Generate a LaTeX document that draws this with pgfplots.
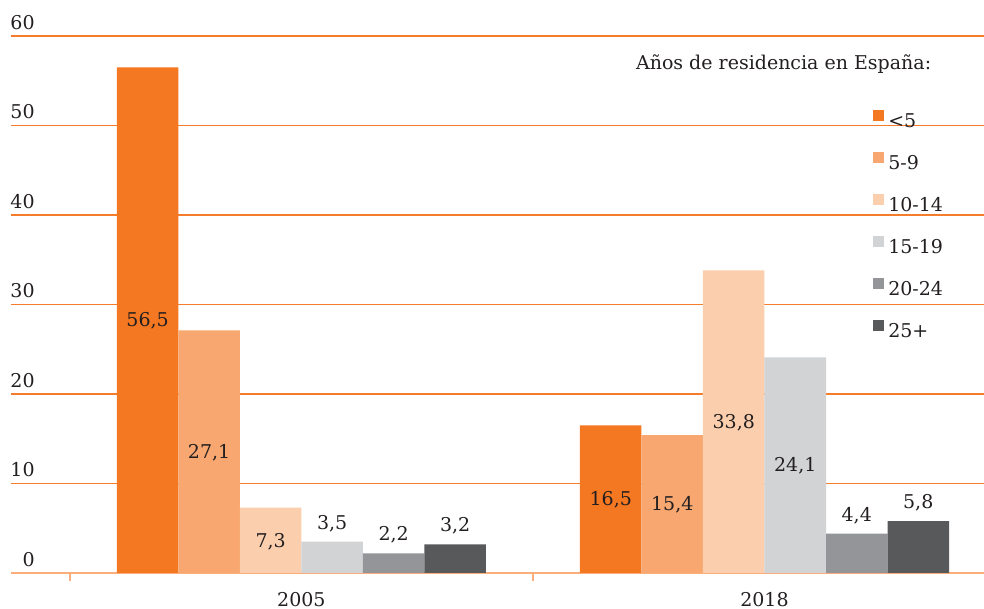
\documentclass[border=0pt]{standalone}
\usepackage{pgfplots}
\pgfplotsset{compat=1.18}
\usepackage{fontspec}
\setmainfont{DejaVu Serif}
\definecolor{cA}{HTML}{F47721}
\definecolor{cB}{HTML}{F7A76F}
\definecolor{cC}{HTML}{FBCFAE}
\definecolor{cD}{HTML}{D1D3D4}
\definecolor{cE}{HTML}{939598}
\definecolor{cF}{HTML}{58595B}
\definecolor{gridc}{HTML}{F47C2A}
\definecolor{axl}{HTML}{F9AE7C}
\definecolor{txt}{HTML}{231F20}
\newcommand{\ff}{\rmfamily\fontsize{9.5}{11}\selectfont}
\begin{document}
\begin{tikzpicture}[font=\ff]
\begin{axis}[name=ax,
  scale only axis, width=486.5pt, height=268.5pt,
  xmin=-0.627, xmax=1.474, ymin=0, ymax=60,
  /pgf/number format/assume math mode=true,
  ybar=0pt, bar width=30.75pt,
  axis x line*=bottom, axis y line*=left,
  y axis line style={draw=none},
  x axis line style={draw=axl, line width=1pt},
  xtick={0,1}, xticklabels={2005,2018},
  minor xtick={-0.5,0.5,1.5},
  tick align=outside,
  major tick length=0pt, minor tick length=4pt,
  xtick style={draw=axl, line width=0.8pt},
  ytick={0,10,...,60},
  ytick style={draw=none},
  ymajorgrids, grid style={draw=gridc, line width=0.8pt},
  tick label style={text=txt, font=\ff},
  yticklabel style={anchor=south east, inner sep=0pt, xshift=12pt, yshift=3pt},
  xticklabel style={anchor=north, inner sep=0pt, yshift=-9.5pt},
  nodes near coords={\pgfmathprintnumber[fixed,fixed zerofill,precision=1,use comma,assume math mode=true]{\pgfplotspointmeta}},
  visualization depends on={y \as \rawy},
  every node near coord/.append style={anchor=base, inner sep=0pt, text=txt,
     font=\ff,
     yshift={ifthenelse(\rawy>6,-2.2375*\rawy-3.4,6.3)}},
  legend style={at={(rel axis cs:0.885,0.863)}, anchor=north west, draw=none, fill=none,
     legend cell align=left, row sep=10.4pt, inner sep=0pt, font=\ff,
     text=txt,
     nodes={inner sep=0pt, text height=7pt, text depth=2pt, font=\ff},
     /tikz/every odd column/.style={column sep=2.4pt}},
  legend image code/.code={\fill[#1] (0pt,0.6pt) rectangle (5.5pt,6.1pt);},
]
\addplot[fill=cA, draw=none] coordinates {(0,56.5) (1,16.5)};
\addplot[fill=cB, draw=none] coordinates {(0,27.1) (1,15.4)};
\addplot[fill=cC, draw=none] coordinates {(0,7.3) (1,33.8)};
\addplot[fill=cD, draw=none] coordinates {(0,3.5) (1,24.1)};
\addplot[fill=cE, draw=none] coordinates {(0,2.2) (1,4.4)};
\addplot[fill=cF, draw=none] coordinates {(0,3.2) (1,5.8)};
\legend{<5,5-9,10-14,15-19,20-24,25+}
\node[anchor=base west, inner sep=0pt, text=txt] at (rel axis cs:0.642,0.9385) {Años de residencia en España:};
\end{axis}
\pgfresetboundingbox
\path ([xshift=-5.5pt,yshift=-18pt]ax.south west) rectangle ([yshift=18pt]ax.north east);
\end{tikzpicture}
\end{document}
